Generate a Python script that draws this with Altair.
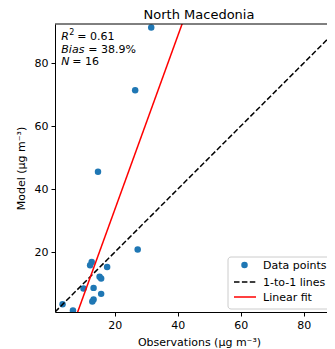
import altair as alt
import pandas as pd

# ---- data ----
obs = [31.6, 26.5, 14.7, 27.3, 12.7, 12.2, 17.6, 15.2, 15.7, 10.1, 13.3, 15.7, 13.3, 12.9, 3.45, 6.75]
model = [91.3, 71.4, 45.5, 20.9, 16.9, 15.9, 15.3, 12.2, 11.7, 8.5, 8.7, 6.8, 5.0, 4.35, 3.5, 1.5]
x_lim = [1.05, 87.4]
y_lim = [1.05, 92.4]
x_ticks = [20, 40, 60, 80]
y_ticks = [20, 40, 60, 80]
legend_labels = ["Data points", "1-to-1 lines", "Linear fit"]
stat_names = ["R", "Bias", "N"]
stat_values = ["= 0.61", "= 38.9%", "= 16"]
title_text = "North Macedonia"

FONT = "DejaVu Sans"
BLUE = "#1f77b4"
W, H = 272, 288

df = pd.DataFrame({"obs": obs, "model": model})
one_df = pd.DataFrame({"obs": y_lim, "model": y_lim})
single = pd.DataFrame({"k": [0]})

xs = alt.Scale(domain=x_lim, nice=False, zero=False)
ys = alt.Scale(domain=y_lim, nice=False, zero=False)

xaxis = alt.Axis(values=x_ticks, title="Observations (μg m⁻³)", titleY=33,
                 titleX=W / 2 + 8, titleBaseline="alphabetic")
yaxis = alt.Axis(values=y_ticks, title="Model (μg m⁻³)", titleX=-34, titleY=H / 2,
                 titleAngle=-90, titleBaseline="middle", titleAlign="center")

X = alt.X("obs:Q", scale=xs, axis=xaxis)
Y = alt.Y("model:Q", scale=ys, axis=yaxis)

points = alt.Chart(df).mark_circle(size=42, color=BLUE, opacity=1, clip=True).encode(x=X, y=Y)

one = alt.Chart(one_df).mark_line(color="black", strokeDash=[5.5, 2.4], strokeWidth=1.5,
                                  clip=True).encode(x="obs:Q", y="model:Q")

fit = alt.Chart(df).transform_regression("obs", "model", extent=y_lim).mark_line(
    color="red", strokeWidth=1.5, clip=True).encode(x="obs:Q", y="model:Q")

# top spine (right spine is outside the visible frame, as in the reference)
top_spine = alt.Chart(single).mark_rule(color="black", strokeWidth=1).encode(
    x=alt.value(0), x2=alt.value(W), y=alt.value(0))

title = alt.Chart(single).mark_text(align="center", baseline="alphabetic", font=FONT,
                                    fontSize=13, color="black").encode(
    x=alt.value(W / 2 + 8), y=alt.value(-5.5), text=alt.value(title_text))

# ---- annotation (top-left) ----
ann = []
ann_x = 6.3
base_y = [16, 29, 41]
name_w = [8.0, 25.0, 9.0]
for i, (nm, val) in enumerate(zip(stat_names, stat_values)):
    ann.append(alt.Chart(single).mark_text(align="left", baseline="alphabetic", font=FONT,
                                           fontSize=11, fontStyle="italic", color="black").encode(
        x=alt.value(ann_x), y=alt.value(base_y[i]), text=alt.value(nm)))
    off = name_w[i]
    if i == 0:
        ann.append(alt.Chart(single).mark_text(align="left", baseline="alphabetic", font=FONT,
                                               fontSize=8, color="black").encode(
            x=alt.value(ann_x + off), y=alt.value(base_y[i] - 5), text=alt.value("2")))
        off += 6
    ann.append(alt.Chart(single).mark_text(align="left", baseline="alphabetic", font=FONT,
                                           fontSize=11, color="black").encode(
        x=alt.value(ann_x + off + 2), y=alt.value(base_y[i]), text=alt.value(val)))

# ---- legend (bottom-right) ----
lx = 173
leg = []
leg.append(alt.Chart(single).mark_rect(fill="white", fillOpacity=0.8, stroke="#cccccc",
                                       strokeWidth=1, cornerRadius=3).encode(
    x=alt.value(lx), x2=alt.value(W + 20), y=alt.value(233), y2=alt.value(285)))
row_y = [241, 258, 273]
leg.append(alt.Chart(single).mark_circle(size=42, color=BLUE, opacity=1).encode(
    x=alt.value(lx + 16.5), y=alt.value(row_y[0])))
leg.append(alt.Chart(single).mark_rule(color="black", strokeDash=[5.5, 2.4], strokeWidth=1.5).encode(
    x=alt.value(lx + 6), x2=alt.value(lx + 28), y=alt.value(row_y[1])))
leg.append(alt.Chart(single).mark_rule(color="red", strokeWidth=1.5).encode(
    x=alt.value(lx + 6), x2=alt.value(lx + 28), y=alt.value(row_y[2])))
for lab, ry in zip(legend_labels, row_y):
    leg.append(alt.Chart(single).mark_text(align="left", baseline="alphabetic", font=FONT,
                                           fontSize=11, color="black").encode(
        x=alt.value(lx + 35), y=alt.value(ry + 4), text=alt.value(lab)))

chart = alt.layer(points, one, fit, top_spine, title, *ann, *leg).properties(
    width=W, height=H,
    autosize=alt.AutoSizeParams(type="none"),
    padding={"left": 47, "top": 16, "right": 0, "bottom": 36},
).configure_axis(
    labelFont=FONT, titleFont=FONT, labelFontSize=11, titleFontSize=11,
    titleFontWeight="normal", labelColor="black", titleColor="black",
    domainColor="black", tickColor="black", tickSize=4, labelPadding=3, grid=False,
).configure_view(stroke=None)

chart.save("out.html", embed_options={"renderer": "svg", "actions": False})
